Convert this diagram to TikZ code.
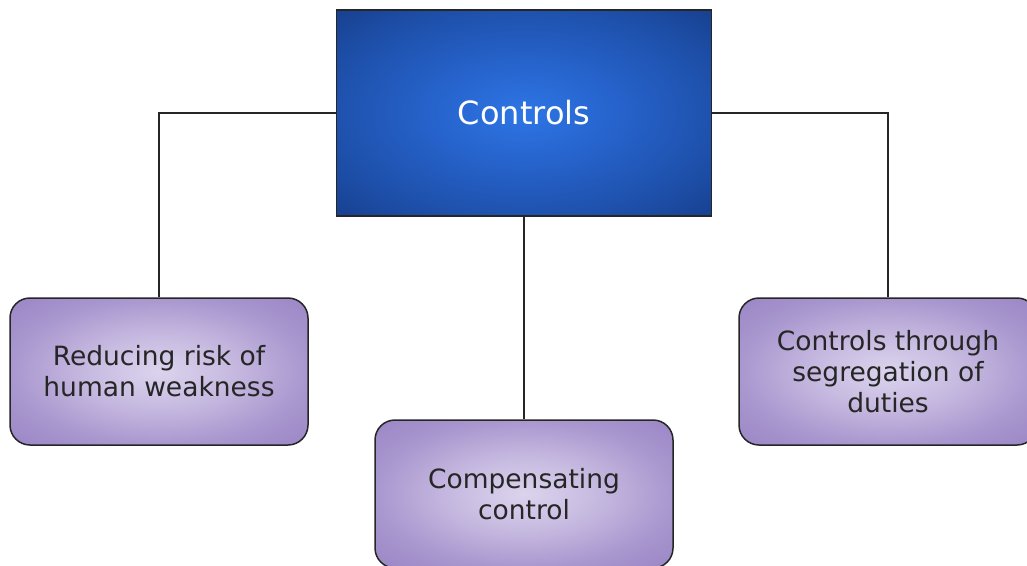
\documentclass[tikz,border=0pt]{standalone}
\usepackage{fontspec}
\setmainfont{DejaVu Sans}
\usetikzlibrary{positioning}
\pgfdeclareradialshading{blueglow}{\pgfpoint{0bp}{0bp}}{%
  rgb(0bp)=(0.18,0.46,0.90);rgb(12bp)=(0.15,0.39,0.80);
  rgb(25bp)=(0.12,0.32,0.68);rgb(36bp)=(0.09,0.25,0.56);
  rgb(50bp)=(0.09,0.25,0.56)}
\pgfdeclareradialshading{lilacglow}{\pgfpoint{0bp}{0bp}}{%
  rgb(0bp)=(0.86,0.83,0.93);rgb(12bp)=(0.78,0.73,0.88);
  rgb(25bp)=(0.66,0.59,0.81);rgb(36bp)=(0.60,0.52,0.77);
  rgb(50bp)=(0.60,0.52,0.77)}

\begin{document}
\begin{tikzpicture}[x=1pt,y=-1pt,
  top/.style={draw=black!85,line width=1.5pt,inner sep=0pt,
    minimum width=375pt,minimum height=206pt,shading=blueglow,
    text=white,font=\fontsize{32}{36}\selectfont},
  leaf/.style={draw=black!85,line width=1.5pt,rounded corners=20pt,
    minimum width=298pt,minimum height=147pt,shading=lilacglow,
    text=black!85,align=center,font=\fontsize{26.5}{31}\selectfont},
  link/.style={draw=black!85,line width=1.3pt}]
\useasboundingbox (0,0) rectangle (1027,565);
\clip (0,0) rectangle (1027,565);
\fill[white] (0,0) rectangle (1027,565);

\node[top] (ctrl) at (524,113) {Controls};
\node[leaf] (risk) at (159,371.5) {Reducing risk of\\human weakness};
\node[leaf,minimum height=148pt] (comp) at (524,494) {Compensating\\control};
\node[leaf] (seg) at (888,371.5) {Controls through\\segregation of\\duties};

\draw[link] (ctrl.west) -| (risk.north);
\draw[link] (ctrl.east) -| (seg.north);
\draw[link] (ctrl.south) -- (comp.north);
\end{tikzpicture}
\end{document}
